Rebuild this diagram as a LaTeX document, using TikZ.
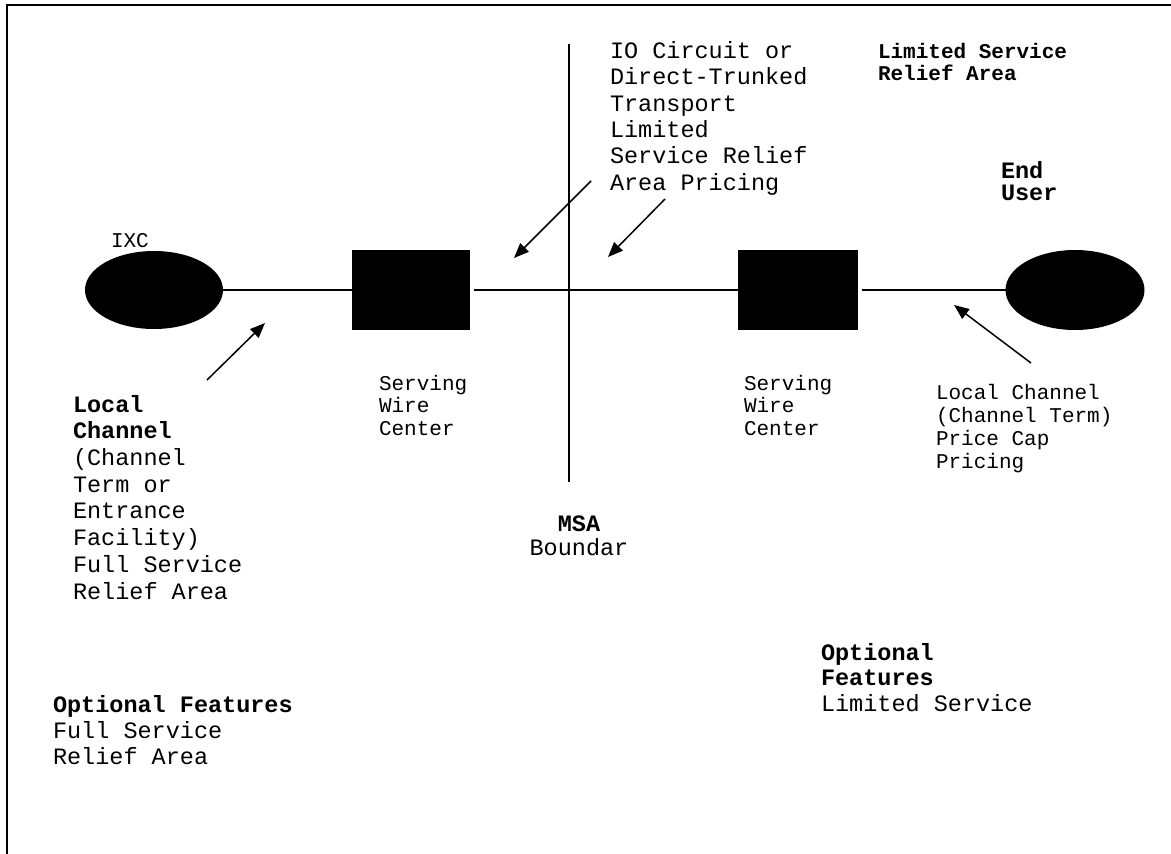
\documentclass[tikz,border=0pt]{standalone}
\usepackage{fontspec}
\setmainfont{Liberation Mono}
\usetikzlibrary{shapes.geometric,arrows.meta}

\tikzset{
  big/.style={font=\fontsize{23.5}{26.5}\selectfont, align=left, anchor=base west, inner sep=0pt},
  small/.style={font=\fontsize{21}{22.5}\selectfont, align=left, anchor=base west, inner sep=0pt},
  site/.style={ellipse, fill=black, draw=black, inner sep=0pt},
  office/.style={rectangle, fill=black, draw=black, inner sep=0pt},
  pointer/.style={line width=1.5pt, -{Triangle[length=15pt,width=12pt]}}
}

\begin{document}
\begin{tikzpicture}[x=1pt, y=-1pt, line width=2pt]
\useasboundingbox (0, 0) rectangle (1171, 854);
\draw[line width=2.5pt] (7, 854) -- (7, 5) -- (1171, 5);

\node[site, minimum width=136pt, minimum height=76pt] (ixc) at (154, 290){};
\node[office, minimum width=116pt, minimum height=78pt] (swcA) at (411, 290){};
\node[office, minimum width=118pt, minimum height=78pt] (swcB) at (798, 290){};
\node[site, minimum width=137pt, minimum height=78pt] (eu) at (1075, 290){};

\draw (ixc.east) -- (swcA.west);
\draw[shorten <=4pt] (swcA.east) -- (swcB.west);
\draw[shorten <=4pt] (swcB.east) -- (eu.west);

\coordinate (msaTop) at (569, 44);
\coordinate (msaBot) at (569, 482);
\draw (msaTop) -- (msaBot);

\coordinate (lcTail) at (207, 380);
\coordinate (lcTip) at (265, 323);
\coordinate (ioTailA) at (591, 181);
\coordinate (ioTipA) at (514, 258);
\coordinate (ioTailB) at (665, 199);
\coordinate (ioTipB) at (608, 257);
\coordinate (rcTail) at (1031, 363);
\coordinate (rcTip) at (954, 305);
\draw[pointer] (lcTail) -- (lcTip);
\draw[pointer] (ioTailA) -- (ioTipA);
\draw[pointer] (ioTailB) -- (ioTipB);
\draw[pointer] (rcTail) -- (rcTip);

% labels: base anchor sits on the last line
\node[small] (ixcLabel) at (110, 247){IXC};
\node[big, font=\fontsize{23.5}{26.3}\selectfont] (ioLabel) at (609, 190){IO Circuit or\\Direct-Trunked\\Transport\\Limited\\Service Relief\\Area Pricing};
\node[small, font=\fontsize{21}{22}\selectfont\bfseries] (lsLabel) at (877, 80){Limited Service\\Relief Area};
\node[big, font=\fontsize{23.5}{21.5}\selectfont\bfseries] (euLabel) at (1000, 200){End\\User};

\node[big, font=\fontsize{23.5}{26.7}\selectfont] (lcLabel) at (72, 599){\textbf{Local}\\\textbf{Channel}\\(Channel\\Term or\\Entrance\\Facility)\\Full Service\\Relief Area};
\node[small] (swcALabel) at (378, 435){Serving\\Wire\\Center};
\node[small] (swcBLabel) at (743, 435){Serving\\Wire\\Center};
\node[small, font=\fontsize{21}{22.7}\selectfont] (rcLabel) at (935, 468){Local Channel\\(Channel Term)\\Price Cap\\Pricing};

\node[big, align=center, anchor=base, font=\fontsize{23.5}{24}\selectfont] (msaLabel) at (579, 555){\textbf{MSA}\\Boundar};

\node[big, font=\fontsize{23.5}{26}\selectfont] (ofALabel) at (52, 764){\textbf{Optional Features}\\Full Service\\Relief Area};
\node[big, font=\fontsize{23.5}{25.5}\selectfont] (ofBLabel) at (820, 711){\textbf{Optional}\\\textbf{Features}\\Limited Service};
\end{tikzpicture}
\end{document}
